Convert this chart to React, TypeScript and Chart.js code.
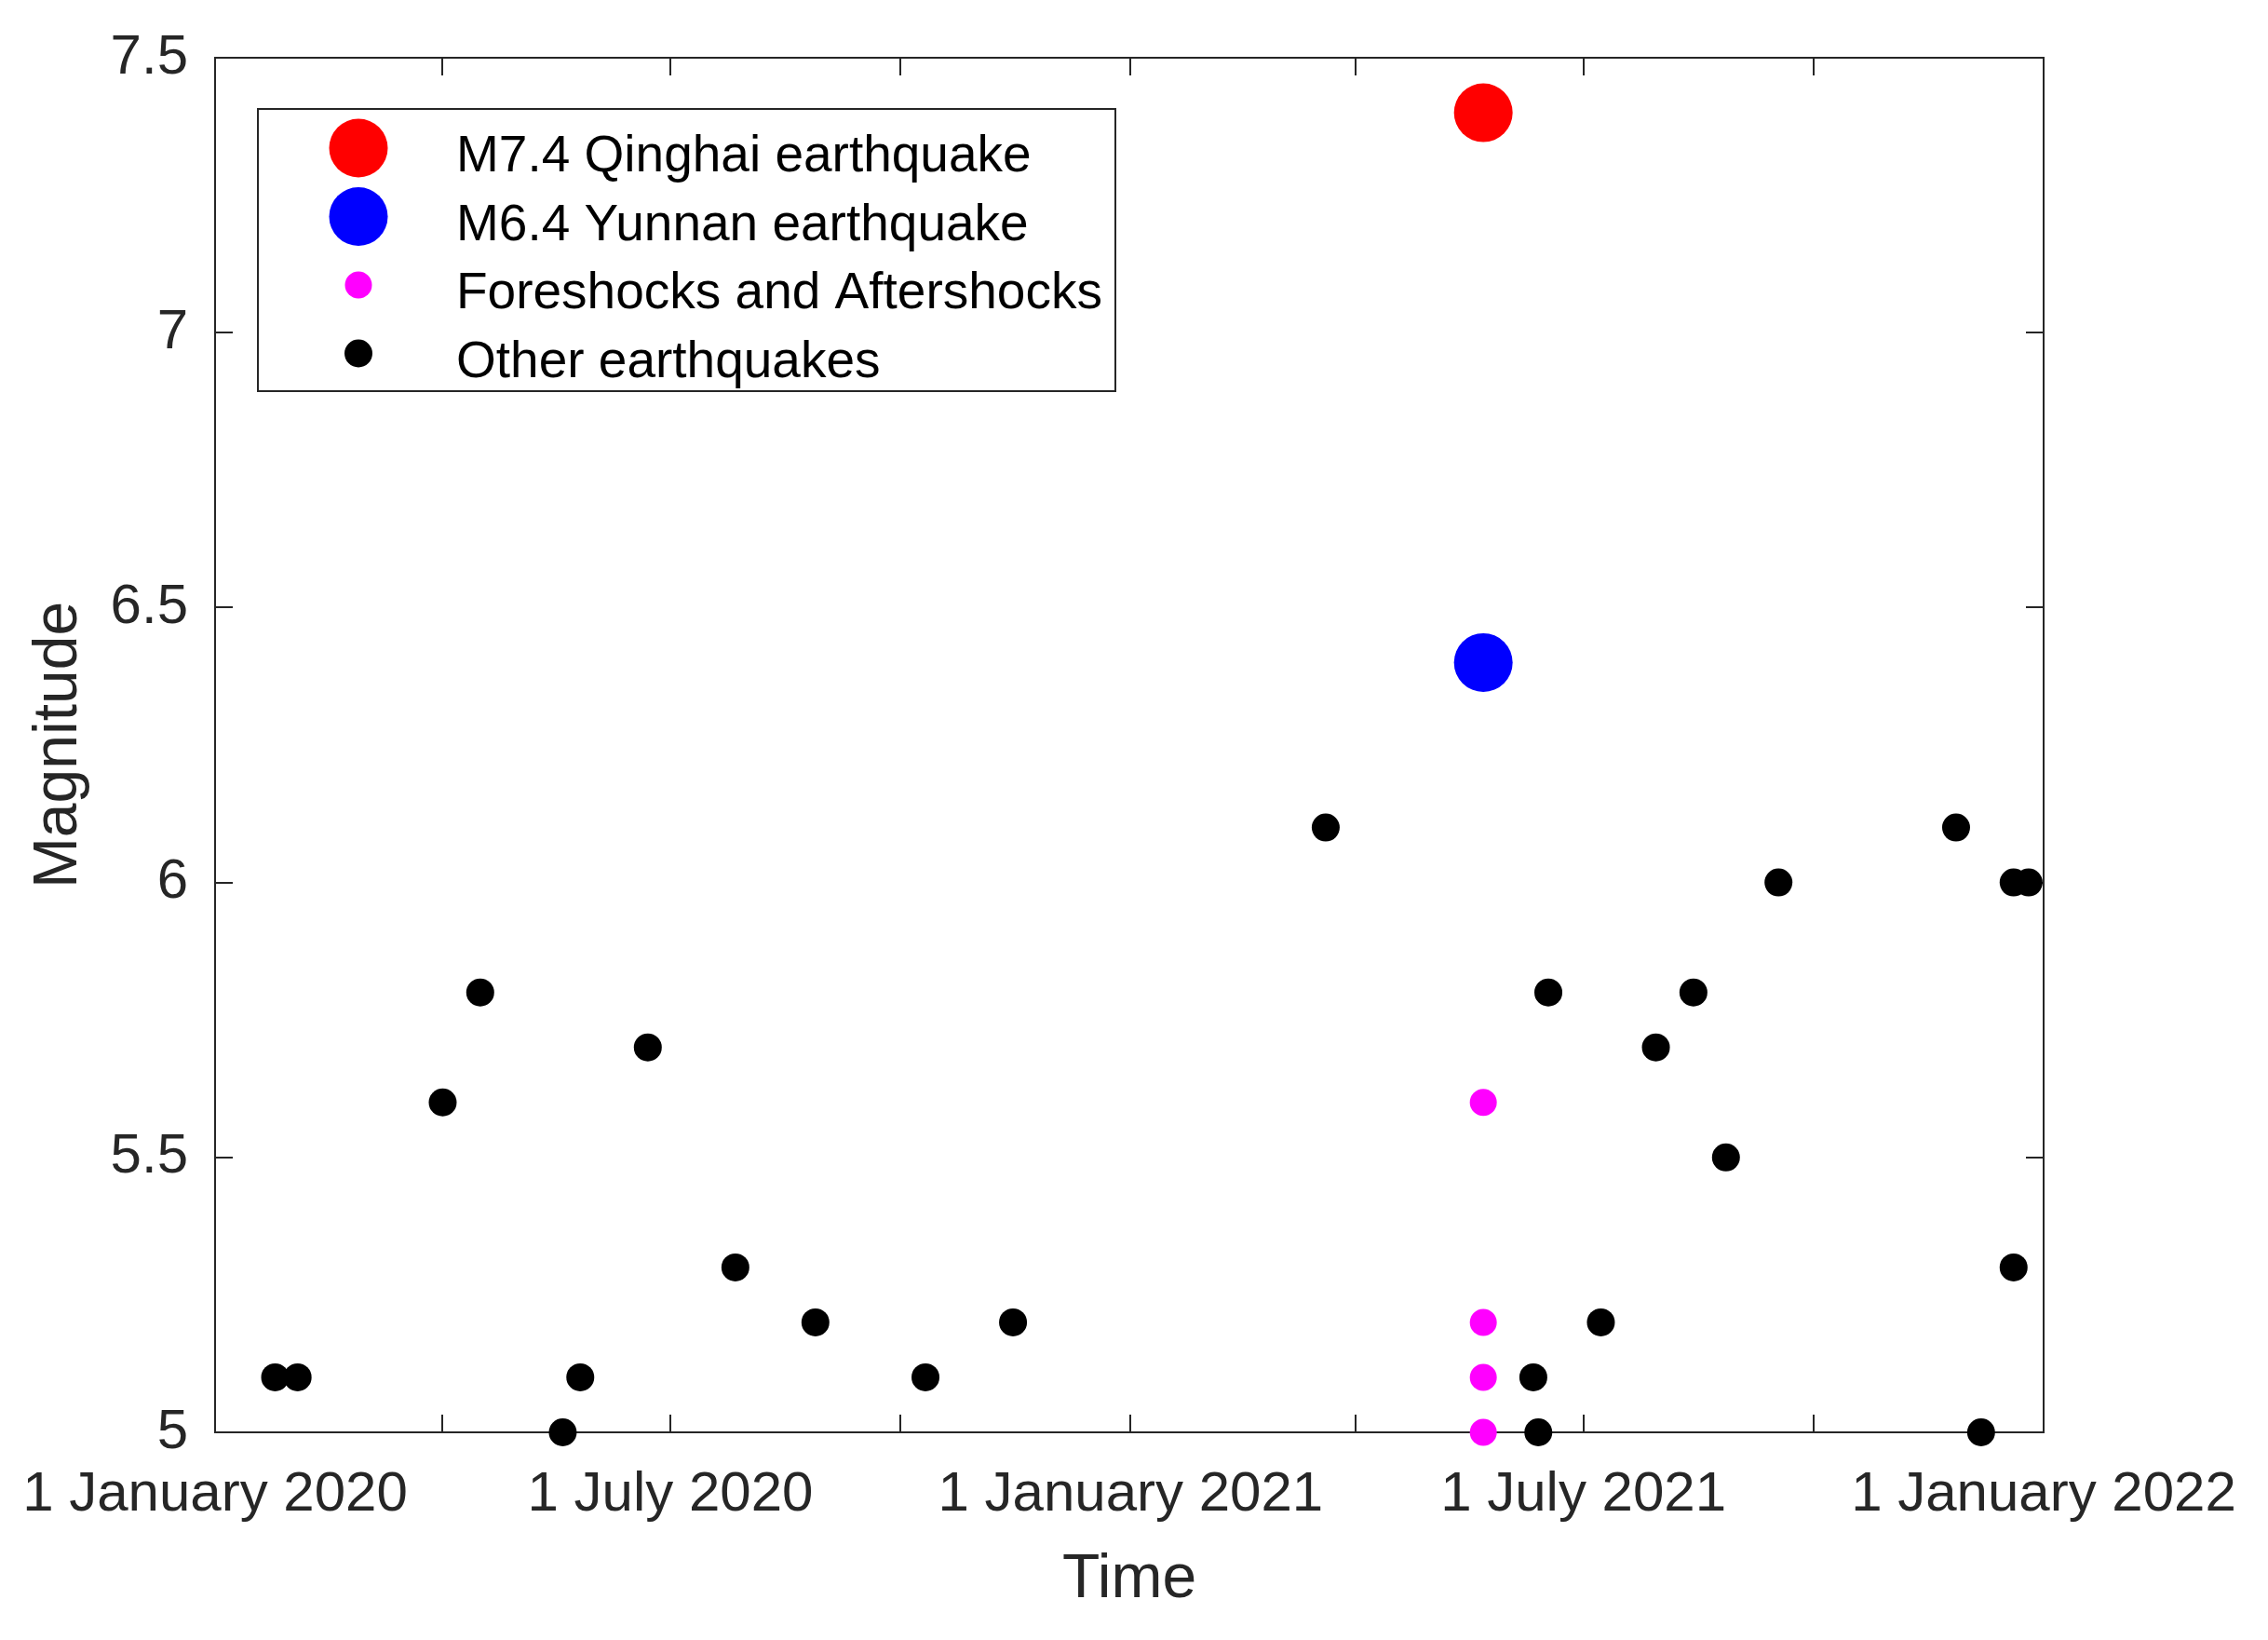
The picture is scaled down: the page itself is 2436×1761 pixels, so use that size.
import React, { useEffect, useRef } from 'react';
import { Chart, registerables } from 'chart.js';

Chart.register(...registerables);

// ---------- data ----------
const START_DATE = '2020-01-01';
const END_DATE = '2022-01-01';

const xTickDates = ['2020-01-01', '2020-04-01', '2020-07-01', '2020-10-01', '2021-01-01', '2021-04-01', '2021-07-01', '2021-10-01', '2022-01-01'];
const xTickLabels = ['1 January 2020', '', '1 July 2020', '', '1 January 2021', '', '1 July 2021', '', '1 January 2022'];
const yTickValues = [5, 5.5, 6, 6.5, 7, 7.5];
const yTickLabels = ['5', '5.5', '6', '6.5', '7', '7.5'];

const seriesLabels = ['M7.4 Qinghai earthquake', 'M6.4 Yunnan earthquake', 'Foreshocks and Aftershocks', 'Other earthquakes'];

const qinghaiDates = ['2021-05-22'];
const qinghaiMags = [7.4];

const yunnanDates = ['2021-05-22'];
const yunnanMags = [6.4];

const shockDates = ['2021-05-22', '2021-05-22', '2021-05-22', '2021-05-22'];
const shockMags = [5.6, 5.2, 5.1, 5.0];

const otherDates = [
  '2020-01-25', '2020-02-03', '2020-04-01', '2020-04-16', '2020-05-19', '2020-05-26', '2020-06-22',
  '2020-07-27', '2020-08-28', '2020-10-11', '2020-11-15', '2021-03-20', '2021-06-11', '2021-06-13',
  '2021-06-17', '2021-07-08', '2021-07-30', '2021-08-14', '2021-08-27', '2021-09-17', '2021-11-27',
  '2021-12-07', '2021-12-20', '2021-12-20', '2021-12-26',
];
const otherMags = [
  5.1, 5.1, 5.6, 5.8, 5.0, 5.1, 5.7,
  5.3, 5.2, 5.1, 5.2, 6.1, 5.1, 5.0,
  5.8, 5.2, 5.7, 5.8, 5.5, 6.0, 6.1,
  5.0, 6.0, 5.3, 6.0,
];

// ---------- helpers ----------
const dayOf = (d: string) => (Date.parse(d) - Date.parse(START_DATE)) / 86400000;
const toPoints = (dates: string[], mags: number[]) => dates.map((d, i) => ({ x: dayOf(d), y: mags[i] }));

const W = 2436;
const H = 1761;
const AXIS_COLOR = '#262626';
const FONT = "'Liberation Sans', Arial, Helvetica, sans-serif";

const boxPlugin = {
  id: 'matlabBox',
  beforeDatasetsDraw(chart: any) {
    const { ctx, chartArea } = chart;
    const { left, right, top, bottom } = chartArea;
    const xs = chart.scales.x;
    const ys = chart.scales.y;
    const tl = 19;
    ctx.save();
    ctx.strokeStyle = AXIS_COLOR;
    ctx.lineWidth = 2;
    ctx.beginPath();
    ctx.rect(left, top, right - left, bottom - top);
    xs.ticks.forEach((t: any) => {
      const px = Math.round(xs.getPixelForValue(t.value));
      ctx.moveTo(px, bottom);
      ctx.lineTo(px, bottom - tl);
      ctx.moveTo(px, top);
      ctx.lineTo(px, top + tl);
    });
    ys.ticks.forEach((t: any) => {
      const py = Math.round(ys.getPixelForValue(t.value));
      ctx.moveTo(left, py);
      ctx.lineTo(left + tl, py);
      ctx.moveTo(right, py);
      ctx.lineTo(right - tl, py);
    });
    ctx.stroke();
    ctx.restore();
  },
};

const legendPlugin = {
  id: 'matlabLegend',
  afterDraw(chart: any) {
    const { ctx, chartArea } = chart;
    const bx = chartArea.left + 46;
    const by = chartArea.top + 55;
    const bw = 921;
    const bh = 303;
    ctx.save();
    ctx.fillStyle = '#ffffff';
    ctx.fillRect(bx, by, bw, bh);
    ctx.strokeStyle = AXIS_COLOR;
    ctx.lineWidth = 2;
    ctx.strokeRect(bx, by, bw, bh);
    ctx.font = `55px ${FONT}`;
    ctx.textBaseline = 'alphabetic';
    ctx.textAlign = 'left';
    chart.data.datasets.forEach((ds: any, i: number) => {
      const cy = by + 42 + i * 73.5;
      const cx = bx + 108;
      ctx.beginPath();
      ctx.fillStyle = ds.pointBackgroundColor;
      ctx.arc(cx, cy, ds.pointRadius, 0, Math.PI * 2);
      ctx.fill();
      ctx.fillStyle = '#000000';
      ctx.fillText(ds.label, bx + 213, cy + 25);
    });
    ctx.restore();
  },
};

export default function App() {
  const canvasRef = useRef<HTMLCanvasElement | null>(null);

  useEffect(() => {
    document.body.style.margin = '0';
    const canvas = canvasRef.current;
    if (!canvas) return;
    const mk = (label: string, data: any[], color: string, r: number) => ({
      label,
      data,
      pointBackgroundColor: color,
      backgroundColor: color,
      borderColor: color,
      pointBorderWidth: 0,
      pointRadius: r,
      pointHoverRadius: r,
      pointStyle: 'circle',
      showLine: false,
      clip: false as any,
    });
    const chart = new Chart(canvas, {
      type: 'scatter',
      data: {
        datasets: [
          mk(seriesLabels[0], toPoints(qinghaiDates, qinghaiMags), '#ff0000', 31.5),
          mk(seriesLabels[1], toPoints(yunnanDates, yunnanMags), '#0000ff', 31.5),
          mk(seriesLabels[2], toPoints(shockDates, shockMags), '#ff00ff', 14.5),
          mk(seriesLabels[3], toPoints(otherDates, otherMags), '#000000', 15),
        ],
      },
      options: {
        responsive: false,
        devicePixelRatio: 1,
        animation: false,
        events: [],
        layout: { padding: { left: 0, top: 62, right: 241, bottom: 0 } },
        plugins: {
          legend: { display: false },
          tooltip: { enabled: false },
          title: { display: false },
        },
        scales: {
          x: {
            type: 'linear',
            min: dayOf(START_DATE),
            max: dayOf(END_DATE),
            grid: { display: false, drawTicks: false },
            border: { display: false },
            afterBuildTicks: (scale: any) => {
              scale.ticks = xTickDates.map((d) => ({ value: dayOf(d) }));
            },
            afterFit: (scale: any) => {
              scale.height = 223;
              scale.paddingLeft = 0;
              scale.paddingRight = 0;
            },
            ticks: {
              autoSkip: false,
              maxRotation: 0,
              minRotation: 0,
              padding: 31,
              color: AXIS_COLOR,
              font: { family: FONT, size: 60 },
              callback: (_v: any, i: number) => xTickLabels[i],
            },
            title: {
              display: true,
              text: 'Time',
              color: AXIS_COLOR,
              font: { family: FONT, size: 66 },
              padding: { top: 0, bottom: 25 },
            },
          },
          y: {
            type: 'linear',
            min: yTickValues[0],
            max: yTickValues[yTickValues.length - 1],
            grid: { display: false, drawTicks: false },
            border: { display: false },
            afterBuildTicks: (scale: any) => {
              scale.ticks = yTickValues.map((v) => ({ value: v }));
            },
            afterFit: (scale: any) => {
              scale.width = 231;
              scale.paddingTop = 0;
              scale.paddingBottom = 0;
            },
            ticks: {
              padding: 29,
              color: AXIS_COLOR,
              font: { family: FONT, size: 60 },
              callback: (_v: any, i: number) => yTickLabels[i],
            },
            title: {
              display: true,
              text: 'Magnitude',
              color: AXIS_COLOR,
              font: { family: FONT, size: 66 },
              padding: { top: 24, bottom: 0 },
            },
          },
        },
      },
      plugins: [boxPlugin, legendPlugin],
    });
    return () => chart.destroy();
  }, []);

  return (
    <div style={{ position: 'absolute', left: 0, top: 0, width: W, height: H, background: '#ffffff' }}>
      <canvas ref={canvasRef} width={W} height={H} style={{ display: 'block', width: W, height: H }} />
    </div>
  );
}
